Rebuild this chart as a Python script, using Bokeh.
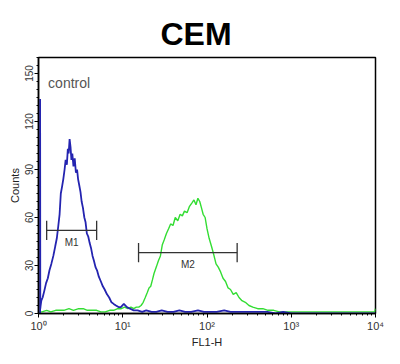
from bokeh.plotting import figure
from bokeh.models import FixedTicker, Range1d, Label, ColumnDataSource
from bokeh.core.properties import value
from bokeh.embed import file_html
from bokeh.resources import INLINE

# ---- data ----
title_text = "CEM"
sample_label = "control"
x_label = "FL1-H"
y_label = "Counts"

blue_fl1 = [1.045, 1.045, 1.05, 1.06, 1.08, 1.12, 1.17, 1.23, 1.29, 1.35, 1.42, 1.5, 1.58, 1.65,
            1.72, 1.78, 1.84, 1.9, 1.97, 2.04, 2.1, 2.17, 2.23, 2.28, 2.34, 2.4, 2.46, 2.52,
            2.6, 2.69, 2.78, 2.87, 2.95, 3.05, 3.15, 3.25, 3.37, 3.5, 3.62, 3.75, 3.9, 4.05,
            4.2, 4.38, 4.55, 4.75, 4.95, 5.2, 5.5, 5.8, 6.1, 6.5, 6.9, 7.35, 7.8, 8.3, 8.9,
            9.5, 10.3, 11.2, 12.2, 13.5, 15, 17, 19, 22, 25, 29, 34, 40, 47, 55, 65, 78, 92,
            110, 130, 160, 190, 230, 280, 340, 420, 520, 650, 800, 1000, 1300, 1700, 2300,
            3000, 4000, 5500, 7500, 10000]
blue_counts = [0, 134, 3, 5, 8, 10, 14, 19, 22, 27, 31, 36, 42, 47,
               55, 62, 75, 79, 84, 90, 96, 93, 103, 100, 109, 104, 96, 100,
               92, 97, 88, 90, 84, 80, 76, 70, 66, 60, 57, 50, 48, 44,
               41, 36, 33, 29, 27, 23, 20, 17, 15, 12, 10, 7, 6, 5, 4,
               4, 6, 4, 3, 2, 2, 1, 2, 1, 1, 2, 1, 1, 2, 1, 1, 2, 1,
               1, 1, 2, 1, 1, 1, 1, 1, 1, 0, 1, 0, 0, 0, 0,
               0, 0, 0, 0, 0]

green_fl1 = [1.0, 1.1, 1.25, 1.4, 1.6, 1.8, 2.0, 2.3, 2.6, 3.0, 3.4, 3.8, 4.3, 4.9, 5.5,
             6.2, 7.0, 7.8, 8.7, 9.6, 10.5, 11.5, 12.5, 13.5, 14.5, 15.5, 16.5, 17.5, 18.5,
             19.5, 20.5, 21.5, 22.5, 23.5, 25, 26.5, 28, 29.5, 31, 33, 35, 37, 39.5, 42, 45,
             48, 51, 54, 58, 62, 66, 70, 74, 78, 82, 86, 90, 95, 100, 106, 113, 120, 128,
             136, 145, 155, 166, 178, 190, 205, 222, 240, 260, 285, 315, 350, 400, 460, 530,
             620, 720, 850, 1000, 1300, 1700, 2200, 3000, 4000, 5500, 7500, 9800, 10000]
green_counts = [1, 1, 2, 1, 2, 2, 2, 3, 2, 3, 3, 2, 2, 2, 1,
                1, 2, 2, 3, 3, 4, 3, 4, 3, 4, 4, 5, 7, 10,
                13, 16, 17, 21, 25, 29, 33, 36, 43, 46, 50, 53, 56, 55, 60, 58,
                62, 61, 64, 63, 67, 69, 71, 68, 72, 70, 66, 62, 60, 53, 47, 42, 37, 31,
                29, 26, 22, 20, 16, 15, 12, 13, 10, 8, 7, 5, 4, 3, 3, 2,
                2, 1, 1, 1, 1, 1, 1, 1, 1, 1, 1, 1, 3]

gate_names = ["M1", "M2"]
gate_lo = [1.25, 15.4]
gate_hi = [4.9, 228]
gate_level = [52, 38]

x_ticks = [1, 10, 100, 1000, 10000]
x_tick_labels = ["10\u2070", "10\u00b9", "10\u00b2", "10\u00b3", "10\u2074"]
y_ticks = [0, 30, 60, 90, 120, 150]

# ---- figure ----
p = figure(width=392, height=356, x_axis_type="log",
           x_range=Range1d(1, 10000), y_range=Range1d(0, 160),
           output_backend="svg", toolbar_location=None,
           min_border_left=38, min_border_right=17, min_border_top=57, min_border_bottom=43)

p.title.text = title_text
p.title.text_font = "Liberation Sans"
p.title.text_font_style = "bold"
p.title.text_font_size = "32px"
p.title.text_color = "black"
p.title.align = "left"
p.title.offset = 122
p.title.standoff = 12

p.xgrid.visible = False
p.ygrid.visible = False
p.outline_line_color = "black"
p.outline_line_width = 1.5
p.background_fill_color = "white"
p.border_fill_color = "white"

minor_x = []
for d in [1, 10, 100, 1000]:
    for m in range(2, 10):
        minor_x.append(d * m)
p.xaxis.ticker = FixedTicker(ticks=x_ticks, minor_ticks=minor_x)
p.xaxis.major_label_overrides = {t: l for t, l in zip(x_ticks, x_tick_labels)}
p.yaxis.ticker = FixedTicker(ticks=y_ticks, minor_ticks=list(range(0, 161, 5)))
p.yaxis.major_label_orientation = "parallel"

for ax in (p.xaxis, p.yaxis):
    ax.axis_line_color = "black"
    ax.axis_line_width = 1.5
    ax.major_tick_line_color = "black"
    ax.minor_tick_line_color = "black"
    ax.major_tick_in = 0
    ax.minor_tick_in = 0
    ax.major_tick_out = 4
    ax.minor_tick_out = 2
    ax.major_label_text_font = "Liberation Sans"
    ax.major_label_text_color = "#333333"
    ax.major_label_text_font_size = "11px"
    ax.major_label_standoff = 2
    ax.axis_label_text_font = "Liberation Sans"
    ax.axis_label_text_font_style = "normal"
    ax.axis_label_text_font_size = "11px"
    ax.axis_label_text_color = "#222222"
    ax.axis_label_standoff = 1

p.xaxis.axis_label = x_label
p.yaxis.axis_label = y_label
p.yaxis.major_label_text_font_size = "10px"

p.line(green_fl1, green_counts, line_color="#33dd33", line_width=1.4)
p.line(blue_fl1, blue_counts, line_color="#2424b0", line_width=1.8)

gates = ColumnDataSource(dict(name=gate_names, lo=gate_lo, hi=gate_hi, level=gate_level,
                              mid=[(a * b) ** 0.5 for a, b in zip(gate_lo, gate_hi)],
                              cap_lo=[v - 6 for v in gate_level],
                              cap_hi=[v + 6 for v in gate_level],
                              lab_y=[v - 4 for v in gate_level]))
p.segment(x0="lo", y0="level", x1="hi", y1="level", source=gates, line_color="#333333", line_width=1.3)
p.segment(x0="lo", y0="cap_lo", x1="lo", y1="cap_hi", source=gates, line_color="#333333", line_width=1.3)
p.segment(x0="hi", y0="cap_lo", x1="hi", y1="cap_hi", source=gates, line_color="#333333", line_width=1.3)
p.text(x="mid", y="lab_y", text="name", source=gates, text_align="center", text_baseline="top",
       text_font=value("Liberation Sans"), text_font_size="10px", text_color="#333333")

p.add_layout(Label(x=1.3, y=149, text=sample_label, text_baseline="top",
                   text_font="Liberation Sans", text_font_size="14px", text_color="#555555"))

open("out.html", "w").write(file_html(p, INLINE))
